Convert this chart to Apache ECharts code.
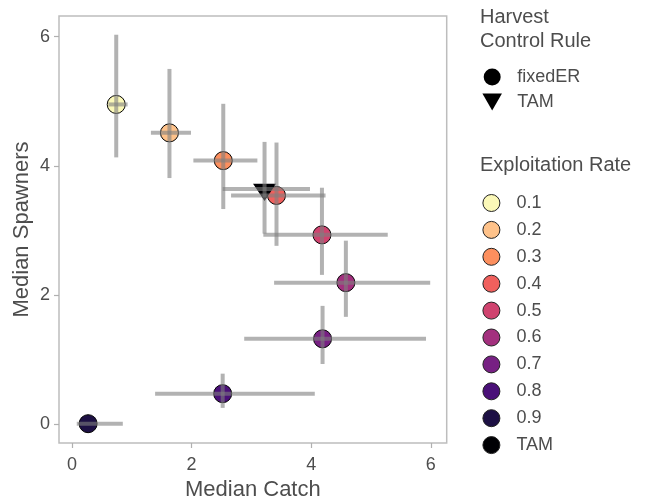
<!DOCTYPE html>
<html>
<head>
<meta charset="utf-8">
<script src="https://cdn.jsdelivr.net/npm/echarts@6/dist/echarts.min.js"></script>
<style>html,body{margin:0;padding:0;background:#fff;}#c{width:650px;height:501px;}</style>
</head>
<body>
<div id="c"></div>
<script>
// ---- data ----
var rates     = ['0.1','0.2','0.3','0.4','0.5','0.6','0.7','0.8','0.9','TAM'];
var rule      = ['fixedER','fixedER','fixedER','fixedER','fixedER','fixedER','fixedER','fixedER','fixedER','TAM'];
var catchMed  = [0.74, 1.63, 2.53, 3.42, 4.18, 4.58, 4.19, 2.52, 0.27, 3.22];
var spawnMed  = [4.95, 4.51, 4.08, 3.54, 2.93, 2.19, 1.32, 0.47, 0.005, 3.64];
var catchLo   = [0.61, 1.32, 2.03, 2.66, 3.20, 3.38, 2.88, 1.39, 0.08, 2.52];
var catchHi   = [0.93, 1.99, 3.10, 4.24, 5.28, 5.99, 5.92, 4.06, 0.85, 3.98];
var spawnLo   = [4.13, 3.81, 3.33, 2.76, 2.31, 1.66, 0.93, 0.25, 0.005, 2.95];
var spawnHi   = [6.03, 5.50, 4.96, 4.36, 3.66, 2.84, 1.83, 0.78, 0.005, 4.37];
var xTicks    = [0, 2, 4, 6];
var yTicks    = [0, 2, 4, 6];
var rateColors = ['#FBF8B8','#FEC28A','#FC8F5E','#F0605D','#D0436F','#A3307E','#772083','#4A1078','#1D1044','#000004'];

var triPath = 'path://M0,0L23,0L11.5,20Z';
var textCol = '#4D4D4D';
var font = 'Liberation Sans, Arial, sans-serif';

var chart = echarts.init(document.getElementById('c'), null, {renderer:'canvas'});

var series = [];
// legend-only shape series
series.push({name:'fixedER', type:'scatter', data:[], symbol:'circle', itemStyle:{color:'#000', opacity:1}});
series.push({name:'TAM_shape', type:'scatter', data:[], symbol:triPath, itemStyle:{color:'#000', opacity:1}});

// points
rates.forEach(function(r, i){
  var isTam = rule[i] === 'TAM';
  series.push({
    name: r,
    type: 'scatter',
    z: 2,
    data: [[catchMed[i], spawnMed[i]]],
    symbol: isTam ? triPath : 'circle',
    symbolKeepAspect: true,
    symbolSize: isTam ? [23, 20] : 18,
    symbolOffset: isTam ? [0, 3.3] : [0, 0],
    itemStyle: {color: rateColors[i], borderColor: '#000', borderWidth: isTam ? 0 : 1, opacity: 1},
    emphasis: {disabled: true}
  });
});

// error bars
var ebData = rates.map(function(r, i){
  return [catchMed[i], spawnMed[i], catchLo[i], catchHi[i], spawnLo[i], spawnHi[i]];
});
series.push({
  name: 'errbars',
  type: 'custom',
  z: 5,
  silent: true,
  data: ebData,
  encode: {x: [0, 2, 3], y: [1, 4, 5]},
  renderItem: function(params, api){
    var xm = api.value(0), ym = api.value(1);
    var h1 = api.coord([api.value(2), ym]);
    var h2 = api.coord([api.value(3), ym]);
    var v1 = api.coord([xm, api.value(4)]);
    var v2 = api.coord([xm, api.value(5)]);
    var st = {stroke: 'rgba(127,127,127,0.6)', lineWidth: 4, lineCap: 'butt'};
    var children = [
      {type:'line', shape:{x1:h1[0], y1:h1[1], x2:h2[0], y2:h2[1]}, style: st}
    ];
    if (Math.abs(v1[1] - v2[1]) > 0.5) {
      children.push({type:'line', shape:{x1:v1[0], y1:v1[1], x2:v2[0], y2:v2[1]}, style: st});
    }
    return {type:'group', children: children};
  }
});

var legend2Data = rates.map(function(r, i){
  return {name: r, icon: 'circle', itemStyle: {color: rateColors[i], borderColor: '#222', borderWidth: 1, opacity: 1}};
});

var option = {
  backgroundColor: '#fff',
  animation: false,
  textStyle: {fontFamily: font},
  title: [
    {text: 'Harvest\nControl Rule', left: 480, top: 5, padding: 0,
     textStyle: {fontSize: 20, lineHeight: 24, fontWeight: 'normal', color: textCol, fontFamily: font}},
    {text: 'Exploitation Rate', left: 480, top: 153, padding: 0,
     textStyle: {fontSize: 20, lineHeight: 24, fontWeight: 'normal', color: textCol, fontFamily: font}}
  ],
  legend: [
    {
      orient: 'vertical', left: 482.4, top: 68, padding: 0,
      itemWidth: 40, itemHeight: 17, itemGap: 7, selectedMode: false,
      textStyle: {fontSize: 18, color: textCol, fontFamily: font},
      formatter: function(n){ return n === 'TAM_shape' ? 'TAM' : n; },
      data: [
        {name: 'fixedER', icon: 'circle', itemStyle: {color: '#000', borderWidth: 0, opacity: 1}},
        {name: 'TAM_shape', icon: triPath, itemStyle: {color: '#000', borderWidth: 0, opacity: 1}}
      ]
    },
    {
      orient: 'vertical', left: 482.4, top: 194, padding: 0,
      itemWidth: 40, itemHeight: 17, itemGap: 8.9, selectedMode: false,
      textStyle: {fontSize: 18, color: textCol, fontFamily: font},
      data: legend2Data
    }
  ],
  grid: {
    left: 59, top: 16, right: 203.3, bottom: 58,
    containLabel: false, outerBoundsMode: 'none',
    show: true, borderColor: '#BDBDBD', borderWidth: 1.5, backgroundColor: 'transparent'
  },
  xAxis: {
    type: 'value', min: -0.217, max: 6.266,
    name: 'Median Catch', nameLocation: 'middle', nameGap: 36, nameMoveOverlap: false,
    nameTextStyle: {fontSize: 22, color: textCol, fontFamily: font},
    axisLine: {show: false, onZero: false},
    axisTick: {show: true, length: 5, customValues: xTicks, lineStyle: {color: '#B0B0B0', width: 1.2}},
    axisLabel: {customValues: xTicks, fontSize: 18, color: textCol, margin: 13, fontFamily: font},
    splitLine: {show: false}
  },
  yAxis: {
    type: 'value', min: -0.294, max: 6.32,
    name: 'Median Spawners', nameLocation: 'middle', nameGap: 26, nameMoveOverlap: false,
    nameTextStyle: {fontSize: 22, color: textCol, fontFamily: font},
    axisLine: {show: false, onZero: false},
    axisTick: {show: true, length: 5, customValues: yTicks, lineStyle: {color: '#B0B0B0', width: 1.2}},
    axisLabel: {customValues: yTicks, fontSize: 18, color: textCol, margin: 9, fontFamily: font},
    splitLine: {show: false}
  },
  series: series
};
chart.setOption(option);
</script>
</body>
</html>
